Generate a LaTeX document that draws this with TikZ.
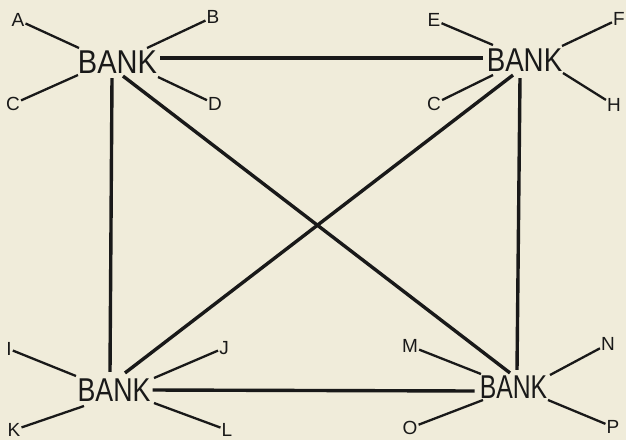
\documentclass[tikz,border=0pt]{standalone}
\usepackage{fontspec}
\setmainfont{Liberation Sans}
\definecolor{paper}{RGB}{240,236,218}
\definecolor{ink}{RGB}{25,25,25}
\begin{document}
\begin{tikzpicture}[x=1pt,y=-1pt,
  bank/.style={inner sep=0pt,text=ink,font=\fontsize{33}{33}\selectfont},
  lbl/.style={inner sep=1pt,text=ink,font=\fontsize{19}{19}\selectfont},
  main/.style={draw=ink,line width=3.4pt},
  spoke/.style={draw=ink,line width=2.3pt}]
\fill[paper] (0,0) rectangle (626,440);
\useasboundingbox (0,0) rectangle (626,440);
% banks
\node[bank] (tl) at (117.5,62) {\scalebox{0.88}[1]{BANK}};
\node[bank] (tr) at (524.5,60) {\scalebox{0.84}[1]{BANK}};
\node[bank] (bl) at (114,390) {\scalebox{0.81}[1]{BANK}};
\node[bank] (br) at (513.5,387) {\scalebox{0.75}[1]{BANK}};
% labels
\node[lbl] (A) at (18,20) {A};
\node[lbl] (B) at (213,17) {B};
\node[lbl] (C) at (13,104) {C};
\node[lbl] (D) at (215,104) {D};
\node[lbl] (E) at (434,20) {E};
\node[lbl] (F) at (619,19) {F};
\node[lbl] (C2) at (434,104) {C};
\node[lbl] (H) at (614,105) {H};
\node[lbl] (I) at (9,349) {I};
\node[lbl] (J) at (224,348) {J};
\node[lbl] (K) at (14,430) {K};
\node[lbl] (L) at (227,430) {L};
\node[lbl] (M) at (410,346) {M};
\node[lbl] (N) at (608,344) {N};
\node[lbl] (O) at (410,428) {O};
\node[lbl] (P) at (613,427) {P};
% spoke ends near banks
\coordinate (a1) at (79,48);
\coordinate (b1) at (147,48);
\coordinate (c1) at (78,75);
\coordinate (d1) at (158,77);
\coordinate (e1) at (493,45);
\coordinate (f1) at (562,46);
\coordinate (g1) at (493,75);
\coordinate (h1) at (563,73);
\coordinate (i1) at (76,376);
\coordinate (j1) at (154,378);
\coordinate (k1) at (84,406);
\coordinate (l1) at (154,403);
\coordinate (m1) at (481,374);
\coordinate (n1) at (550,375);
\coordinate (o1) at (483,400);
\coordinate (p1) at (548,400);
% spokes
\draw[spoke] (A) -- (a1);
\draw[spoke] (B) -- (b1);
\draw[spoke] (C) -- (c1);
\draw[spoke] (D) -- (d1);
\draw[spoke] (E) -- (e1);
\draw[spoke] (F) -- (f1);
\draw[spoke] (C2) -- (g1);
\draw[spoke] (H) -- (h1);
\draw[spoke] (I) -- (i1);
\draw[spoke] (J) -- (j1);
\draw[spoke] (K) -- (k1);
\draw[spoke] (L) -- (l1);
\draw[spoke] (M) -- (m1);
\draw[spoke] (N) -- (n1);
\draw[spoke] (O) -- (o1);
\draw[spoke] (P) -- (p1);
% main connectors
\draw[main] ([xshift=3pt,yshift=4pt]tl.east) -- ([xshift=-4pt,yshift=2pt]tr.west);
\draw[main] ([xshift=-5.5pt,yshift=-4.5pt]tl.south) -- ([xshift=-4pt,yshift=6.5pt]bl.north);
\draw[main] ([xshift=-4.5pt,yshift=-6.5pt]tr.south) -- ([xshift=3.5pt,yshift=5.5pt]br.north);
\draw[main] ([xshift=2pt]bl.east) -- ([xshift=-5pt,yshift=-4pt]br.west);
\draw[main] ([xshift=5.5pt,yshift=-2.5pt]tl.south) -- ([xshift=-3.5pt,yshift=2.5pt]br.north);
\draw[main] ([xshift=-11.5pt,yshift=-3.5pt]tr.south) -- ([xshift=11pt,yshift=5.5pt]bl.north);
\end{tikzpicture}
\end{document}
